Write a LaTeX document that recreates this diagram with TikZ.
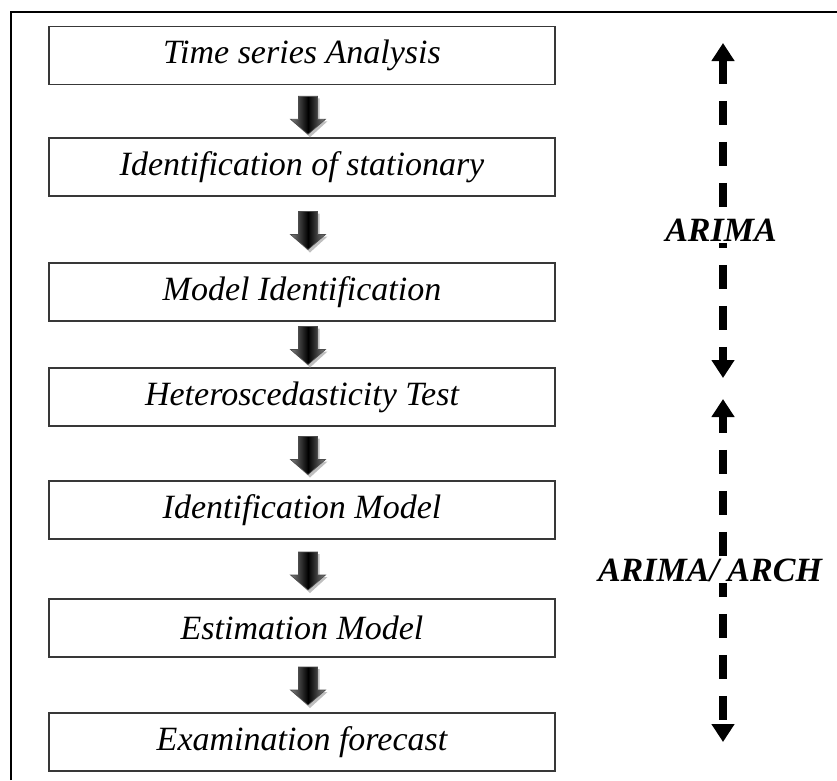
\documentclass[tikz,border=0pt]{standalone}
\usepackage{fontspec}
\setmainfont{Liberation Serif}
\usetikzlibrary{calc,arrows.meta}
\begin{document}
\begin{tikzpicture}[x=1pt,y=-1pt,
  stagebox/.style={draw=black!78,line width=1.8pt,minimum width=506pt,minimum height=58pt,
    inner sep=0pt,font=\fontsize{34}{40}\selectfont\itshape},
  spanlabel/.style={fill=white,inner sep=2pt,font=\fontsize{34}{40}\selectfont\bfseries\itshape},
  spanarrow/.style={line width=8pt,dash pattern=on 24pt off 17pt,
    {Triangle[width=22pt,length=18pt]}-{Triangle[width=22pt,length=18pt]}},
  blockarrow/.pic={
    % soft drop shadow
    \fill[black!25] (-8.5,-17) -- (11.5,-17) -- (11.5,6) -- (19.5,6) -- (2,22) -- (-15.5,6) -- (-8.5,6) -- cycle;
    % shaded block arrow pointing down
    \shade[left color=black!50,right color=black!50,middle color=black,draw=black!70,line width=0.6pt]
      (-9.5,-19) -- (9.5,-19) -- (9.5,4) -- (17.5,4) -- (0,19) -- (-17.5,4) -- (-9.5,4) -- cycle;
  }]
\useasboundingbox (0,0) rectangle (837,780);

% outer frame
\draw[line width=2pt,line join=miter] (11,780) -- (11,12) -- (837,12);

% process stages
\node[stagebox] (b1) at (302,55.5) {Time series Analysis};
\node[stagebox] (b2) at (302,167) {Identification of stationary};
\node[stagebox] (b3) at (302,292) {Model Identification};
\node[stagebox] (b4) at (302,397) {Heteroscedasticity Test};
\node[stagebox] (b5) at (302,510) {Identification Model};
\node[stagebox] (b6) at (302,628) {Estimation Model};
\node[stagebox] (b7) at (302,742) {Examination forecast};

% block arrows between stages
\pic at ($(b1.south)!0.5!(b2.north)+(6,4)$) {blockarrow};
\pic at ($(b2.south)!0.5!(b3.north)+(6,1)$) {blockarrow};
\pic at ($(b3.south)!0.5!(b4.north)+(6,1)$) {blockarrow};
\pic at ($(b4.south)!0.5!(b5.north)+(6,2)$) {blockarrow};
\pic at ($(b5.south)!0.5!(b6.north)+(6,2)$) {blockarrow};
\pic at ($(b6.south)!0.5!(b7.north)+(6,1)$) {blockarrow};

% model spans
\coordinate (s1top) at (723,43);
\coordinate (s1bot) at (723,378);
\coordinate (s2top) at (723,399);
\coordinate (s2bot) at (723,742);
\draw[spanarrow] (s1top) -- (s1bot);
\draw[spanarrow,dash phase=7pt] (s2top) -- (s2bot);
\node[spanlabel] (l1) at (721,230) {ARIMA};
\node[spanlabel] (l2) at (710,570) {ARIMA/ ARCH};
\end{tikzpicture}
\end{document}
